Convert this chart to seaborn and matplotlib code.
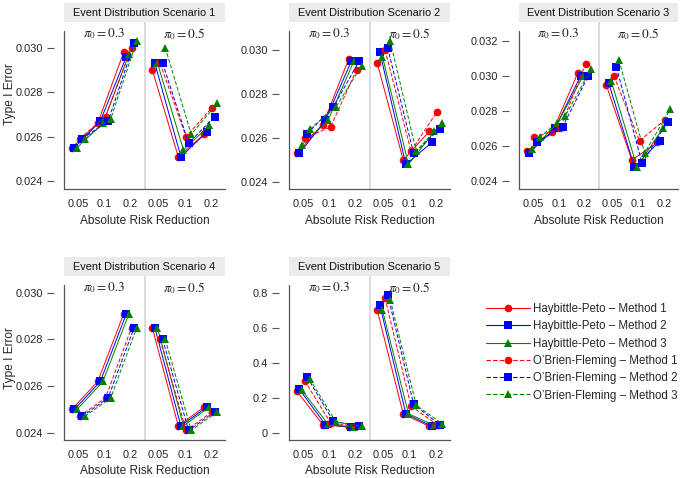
import matplotlib
matplotlib.use("Agg")
import matplotlib.pyplot as plt
import numpy as np
import pandas as pd
import seaborn as sns
from matplotlib.lines import Line2D
from matplotlib.patches import Rectangle

# ---- data ----
ARR = ["0.05", "0.1", "0.2"]
PI0 = ["0.3", "0.5"]
SERIES = ["Haybittle-Peto – Method 1", "Haybittle-Peto – Method 2",
          "Haybittle-Peto – Method 3", "O’Brien-Fleming – Method 1",
          "O’Brien-Fleming – Method 2", "O’Brien-Fleming – Method 3"]
COLORS = ["#FF0000", "#0000FF", "#008000"] * 2
MARKERS = ["o", "s", "^"] * 2
DASHED = [False, False, False, True, True, True]

# rows follow SERIES, columns follow ARR
s1_pi03 = [[0.0255, 0.0266, 0.0298], [0.0255, 0.0267, 0.0296], [0.0255, 0.0266, 0.0297],
           [0.0259, 0.0269, 0.0300], [0.0259, 0.0267, 0.0302], [0.0259, 0.0268, 0.0303]]
s1_pi05 = [[0.0290, 0.0251, 0.0261], [0.0293, 0.0251, 0.0262], [0.0293, 0.0254, 0.0265],
           [0.0293, 0.0260, 0.0273], [0.0293, 0.0257, 0.0269], [0.0300, 0.0261, 0.0275]]
s2_pi03 = [[0.0253, 0.0266, 0.0296], [0.0253, 0.0268, 0.0295], [0.0257, 0.0268, 0.0295],
           [0.0260, 0.0265, 0.0291], [0.0262, 0.0274, 0.0295], [0.0264, 0.0274, 0.0293]]
s2_pi05 = [[0.0294, 0.0250, 0.0263], [0.0299, 0.0248, 0.0258], [0.0297, 0.0248, 0.0263],
           [0.0300, 0.0254, 0.0272], [0.0301, 0.0253, 0.0264], [0.0304, 0.0254, 0.0267]]
s3_pi03 = [[0.0257, 0.0268, 0.0302], [0.0256, 0.0270, 0.0300], [0.0258, 0.0273, 0.0300],
           [0.0265, 0.0270, 0.0307], [0.0262, 0.0271, 0.0300], [0.0265, 0.0277, 0.0304]]
s3_pi05 = [[0.0295, 0.0252, 0.0262], [0.0296, 0.0248, 0.0263], [0.0297, 0.0248, 0.0270],
           [0.0300, 0.0263, 0.0275], [0.0305, 0.0250, 0.0274], [0.0309, 0.0256, 0.0281]]
s4_pi03 = [[0.0250, 0.0262, 0.0291]] * 3 + [[0.0247, 0.0255, 0.0285]] * 3
s4_pi05 = [[0.0285, 0.0243, 0.0251]] * 3 + [[0.0280, 0.0241, 0.0249]] * 3
s5_pi03 = [[0.240, 0.050, 0.035], [0.250, 0.050, 0.035], [0.245, 0.052, 0.035],
           [0.300, 0.060, 0.040], [0.320, 0.070, 0.040], [0.310, 0.066, 0.040]]
s5_pi05 = [[0.700, 0.110, 0.040], [0.730, 0.112, 0.040], [0.700, 0.112, 0.045],
           [0.770, 0.155, 0.050], [0.790, 0.165, 0.050], [0.760, 0.160, 0.055]]

SCENARIOS = [(s1_pi03, s1_pi05), (s2_pi03, s2_pi05), (s3_pi03, s3_pi05),
             (s4_pi03, s4_pi05), (s5_pi03, s5_pi05)]
TITLES = [f"Event Distribution Scenario {k}" for k in range(1, 6)]

YTICKS_SMALL = [0.024, 0.026, 0.028, 0.030]
YTICKS_S3 = [0.024, 0.026, 0.028, 0.030, 0.032]
YTICKS_S5 = [0, 0.2, 0.4, 0.6, 0.8]
YTICKLABELS_S5 = ["0", "0.2", "0.4", "0.6", "0.8"]

# ---- layout ----
OFFSETS = [-0.25, -0.15, -0.05, 0.05, 0.15, 0.25]
SHIFT = 3.1       # where the pi0=0.5 block starts
SEP = 2.58
XLIM = (-0.55, 5.65)
YLIMS = [(0.02364, 0.03116), (0.02368, 0.03128), (0.02354, 0.03309),
         (0.02369, 0.03072), (-0.038, 0.896)]

W, H = 685, 478
# left, top, right, bottom in pixels
BOXES = [(64, 22, 225, 189), (289, 22, 450, 189), (519, 22, 678, 189),
         (64, 276, 225, 440), (289, 276, 450, 440)]

rows = []
for k, pair in enumerate(SCENARIOS):
    for j, block in enumerate(pair):
        for s, vals in enumerate(block):
            for i, v in enumerate(vals):
                rows.append({"scenario": k, "pi0": PI0[j], "series": SERIES[s],
                             "pos": i + j * SHIFT + OFFSETS[s], "value": v})
df = pd.DataFrame(rows)

sns.set_style("white")
plt.rcParams["font.family"] = ["Liberation Sans", "DejaVu Sans"]
plt.rcParams["mathtext.fontset"] = "stix"
tick_size = 7.9

palette = dict(zip(SERIES, COLORS))
markers = dict(zip(SERIES, MARKERS))
dashes = {s: ((4, 2) if d else "") for s, d in zip(SERIES, DASHED)}

fig = plt.figure(figsize=(W / 100, H / 100), dpi=100)
axis_col = "#555555"

for k in range(5):
    l, t, r, b = BOXES[k]
    ax = fig.add_axes([l / W, 1 - b / H, (r - l) / W, (b - t) / H])
    ax.axvline(SEP, color="#D8D8D8", lw=1.3, zorder=0)
    for pi in PI0:
        sub = df[(df["scenario"] == k) & (df["pi0"] == pi)]
        sns.lineplot(data=sub, x="pos", y="value", hue="series", style="series",
                     hue_order=SERIES, style_order=SERIES, palette=palette,
                     markers=markers, dashes=dashes, estimator=None,
                     linewidth=0.7, markersize=5.5, markeredgewidth=0,
                     legend=False, ax=ax)
    ax.set_xlim(*XLIM)
    ax.set_ylim(*YLIMS[k])
    ax.set_xticks([0, 1, 2, SHIFT, SHIFT + 1, SHIFT + 2])
    ax.set_xticklabels(ARR + ARR)
    if k == 2:
        ax.set_yticks(YTICKS_S3)
        ax.set_yticklabels([f"{v:.3f}" for v in YTICKS_S3])
    elif k == 4:
        ax.set_yticks(YTICKS_S5)
        ax.set_yticklabels(YTICKLABELS_S5)
    else:
        ax.set_yticks(YTICKS_SMALL)
        ax.set_yticklabels([f"{v:.3f}" for v in YTICKS_SMALL])

    for side in ["top", "right"]:
        ax.spines[side].set_visible(False)
    ax.spines["bottom"].set_color(axis_col)
    ax.spines["bottom"].set_linewidth(0.9)
    # ticks hang off a spine pushed outward; the visible axis line is drawn separately
    ax.spines["left"].set_position(("outward", 7))
    ax.spines["left"].set_visible(False)
    ax.plot([0, 0], [0, 0.945], transform=ax.transAxes, color=axis_col,
            lw=0.9, clip_on=False, zorder=1)
    ax.tick_params(axis="y", length=5, width=0.8, color=axis_col, pad=3,
                   labelsize=tick_size, left=True)
    ax.tick_params(axis="x", length=0, pad=7, labelsize=tick_size)

    ax.set_xlabel("Absolute Risk Reduction", fontsize=8.6)
    ax.xaxis.set_label_coords(0.5, -0.155)
    if k in (0, 3):
        ax.set_ylabel("Type I Error", fontsize=8.6)
        ax.yaxis.set_label_coords(-0.3, 0.57 if k == 0 else 0.5)
    else:
        ax.set_ylabel("")

    # pi0 labels inside the top of each half
    for j, pi in enumerate(PI0):
        ax.text(1 + j * SHIFT, 0.975, rf"$\pi_0 = {pi}$", transform=ax.get_xaxis_transform(),
                ha="center", va="top", fontsize=9.5, color="#222222")

    # strip title
    sh = 19 / (b - t)
    ax.add_patch(Rectangle((0, 1), 1, sh, transform=ax.transAxes,
                           facecolor="#EBEBEB", edgecolor="none", clip_on=False))
    ax.text(0.5, 1 + sh / 2, TITLES[k], transform=ax.transAxes, ha="center",
            va="center", fontsize=7.9, color="#111111")

handles = []
for c, m, d in zip(COLORS, MARKERS, DASHED):
    h = Line2D([], [], marker=m, linestyle="--" if d else "-", lw=0.8,
               markersize=5.5, markeredgewidth=0)
    h.set_color(c)
    h.set_markerfacecolor(c)
    if d:
        h.set_dashes((4, 2))
    handles.append(h)
fig.legend(handles, SERIES, loc="upper left", bbox_to_anchor=(486 / W, 1 - 303 / H),
           frameon=False, handlelength=3.8, handletextpad=0.25, labelspacing=0.46,
           fontsize=8.3, borderpad=0, borderaxespad=0)

fig.savefig("out.png", dpi=100)
